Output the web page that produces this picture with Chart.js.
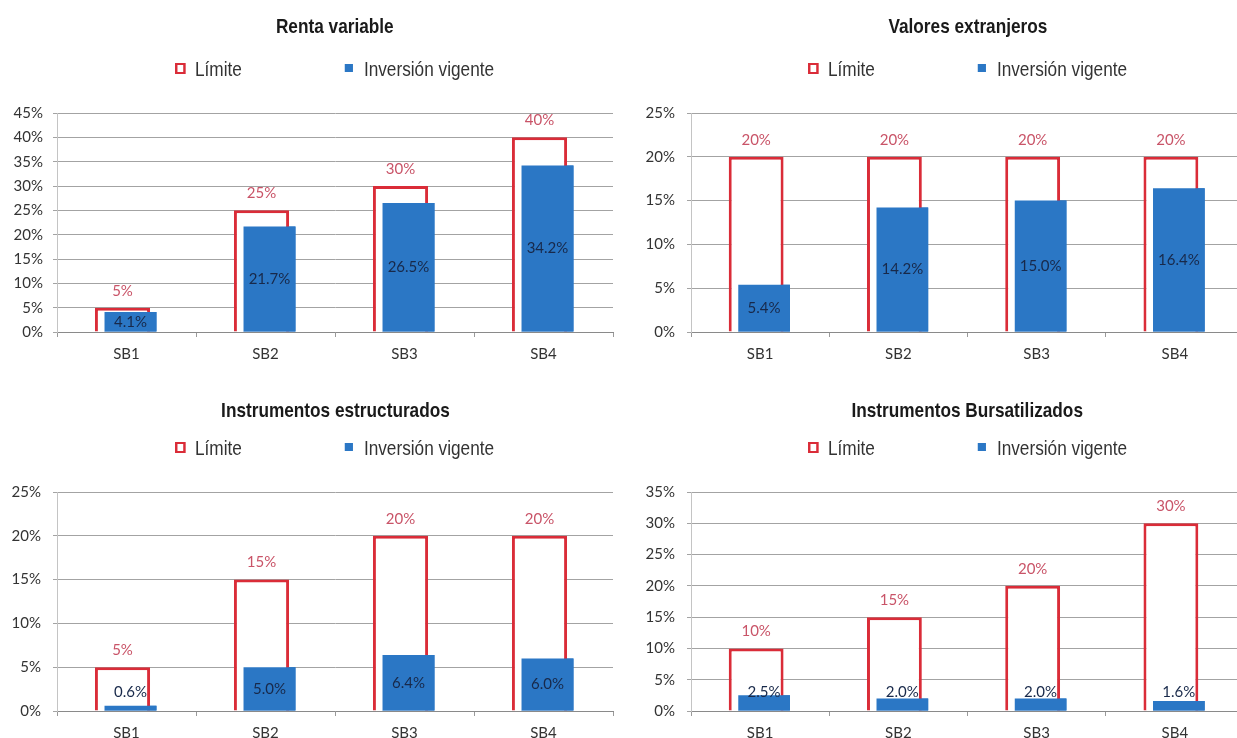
<!DOCTYPE html>
<html lang="es">
<head>
  <meta charset="UTF-8" />
  <title>Límites de inversión por SIEFORE</title>
  <script src="https://cdn.jsdelivr.net/npm/chart.js"></script>
  <style>
    body {
      margin: 0;
      width: 1237px;
      height: 738px;
      overflow: hidden;
      position: relative;
      background: #ffffff;
      font-family: 'Liberation Sans', Arial, sans-serif;
    }
    .panel { position: absolute; height: 375px; }
    .panel canvas { position: absolute; left: 0; top: 0; }
    .title, .legend {
      position: absolute;
      text-align: center;
      white-space: nowrap;
      line-height: 24px;
      font-size: 21px;
    }
    .title { font-weight: bold; color: #1a1a1a; }
    .legend { color: #333; }
    .inner { display: inline-block; transform-origin: center; }
    .mark { display: inline-block; box-sizing: border-box; vertical-align: middle; position: relative; top: -2px; }
  </style>
</head>
<body>

<script>
  // categorías y valores (%)
  const categories = ['SB1', 'SB2', 'SB3', 'SB4'];

  const rentaLimite = [5, 25, 30, 40];
  const rentaInversion = [4.1, 21.7, 26.5, 34.2];

  const valoresLimite = [20, 20, 20, 20];
  const valoresInversion = [5.4, 14.2, 15.0, 16.4];

  const estructLimite = [5, 15, 20, 20];
  const estructInversion = [0.6, 5.0, 6.4, 6.0];

  const bursLimite = [10, 15, 20, 30];
  const bursInversion = [2.5, 2.0, 2.0, 1.6];

  const seriesNames = ['Límite', 'Inversión vigente'];

  const RED = '#da2c38';
  const BLUE = '#2b77c5';
  const RED_TEXT = '#c95468';
  const BLUE_TEXT = '#18294a';

  Chart.defaults.font.family = 'Lato, "Open Sans", sans-serif';
  Chart.defaults.font.size = 15;

  function hasFont(name) {
    const c = document.createElement('canvas').getContext('2d');
    c.font = '20px monospace';
    const a = c.measureText('Inversión vigente').width;
    c.font = '20px "' + name + '", monospace';
    return c.measureText('Inversión vigente').width !== a;
  }
  const narrow = hasFont('Liberation Sans Narrow');
  const sx = narrow ? 1 : 0.82;
  const headFont = narrow ? '"Liberation Sans Narrow"' : '"Liberation Sans"';

  const panels = [
    { title: 'Renta variable', limite: rentaLimite, inversion: rentaInversion, yMax: 45,
      left: 0, top: 0, width: 620, axisW: 57, tickPad: 10, padRight: 7, titleTop: 14 },
    { title: 'Valores extranjeros', limite: valoresLimite, inversion: valoresInversion, yMax: 25,
      left: 620, top: 0, width: 628, axisW: 71, tickPad: 12, padRight: 4, titleTop: 14 },
    { title: 'Instrumentos estructurados', limite: estructLimite, inversion: estructInversion, yMax: 25,
      left: 0, top: 379, width: 620, axisW: 57, tickPad: 12, padRight: 7, titleTop: 19 },
    { title: 'Instrumentos Bursatilizados', limite: bursLimite, inversion: bursInversion, yMax: 35,
      left: 620, top: 379, width: 628, axisW: 71, tickPad: 12, padRight: 4, titleTop: 19 }
  ];

  // dibuja la inversión encima del contorno del límite y pone las etiquetas
  const frontPlugin = {
    id: 'front',
    afterDatasetsDraw(chart) {
      const ctx = chart.ctx;
      const lim = chart.getDatasetMeta(0).data;
      const inv = chart.getDatasetMeta(1).data;
      inv.forEach(bar => bar.draw(ctx));

      ctx.save();
      ctx.font = '15px Lato, "Open Sans", sans-serif';
      ctx.textAlign = 'center';
      ctx.textBaseline = 'middle';
      lim.forEach((bar, i) => {
        ctx.fillStyle = RED_TEXT;
        ctx.fillText(chart.data.datasets[0].data[i] + '%', bar.x, bar.y - 17);
      });
      inv.forEach((bar, i) => {
        const h = bar.base - bar.y;
        const y = h >= 18 ? bar.y + h / 2 : bar.base - 18;
        ctx.fillStyle = BLUE_TEXT;
        ctx.fillText(chart.data.datasets[1].data[i].toFixed(1) + '%', bar.x, y);
      });
      ctx.restore();
    }
  };

  function makeChart(canvas, p) {
    return new Chart(canvas, {
      type: 'bar',
      data: {
        labels: categories,
        datasets: [
          {
            label: seriesNames[0],
            data: p.limite,
            backgroundColor: '#ffffff',
            borderColor: RED,
            borderWidth: 3,
            categoryPercentage: 0.115,
            barPercentage: 6.9
          },
          {
            label: seriesNames[1],
            data: p.inversion,
            backgroundColor: BLUE,
            borderWidth: 0,
            categoryPercentage: 0.115,
            barPercentage: 6.5
          }
        ]
      },
      options: {
        responsive: false,
        animation: false,
        layout: { padding: { top: 113, right: p.padRight, bottom: 13, left: 0 } },
        plugins: {
          legend: { display: false },
          title: { display: false },
          tooltip: { enabled: false }
        },
        scales: {
          x: {
            grid: { offset: true, drawOnChartArea: false, tickLength: 5, color: '#9a9a9a' },
            border: { color: '#8a8a8a' },
            ticks: { color: '#333', padding: 8 },
            afterFit(s) { s.height = 30; }
          },
          y: {
            min: 0,
            max: p.yMax,
            ticks: { stepSize: 5, padding: p.tickPad, color: '#333', callback: v => v + '%' },
            grid: { color: '#a3a3a3', tickLength: 4 },
            border: { color: '#c4c4c4' },
            afterFit(s) { s.width = p.axisW; }
          }
        }
      },
      plugins: [frontPlugin]
    });
  }

  panels.forEach(p => {
    const div = document.createElement('div');
    div.className = 'panel';
    div.style.left = p.left + 'px';
    div.style.top = p.top + 'px';
    div.style.width = p.width + 'px';
    document.body.appendChild(div);

    const canvas = document.createElement('canvas');
    canvas.width = p.width;
    canvas.height = 375;
    div.appendChild(canvas);
    const chart = makeChart(canvas, p);
    const area = chart.chartArea;

    const title = document.createElement('div');
    title.className = 'title';
    title.style.left = area.left + 'px';
    title.style.width = (area.right - area.left) + 'px';
    title.style.top = p.titleTop + 'px';
    title.style.fontFamily = headFont;
    title.innerHTML = '<span class="inner" style="transform:scaleX(' + sx + ')">' + p.title + '</span>';
    div.appendChild(title);

    // leyenda en HTML a partir de los datasets
    const ds = chart.data.datasets;
    const legend = document.createElement('div');
    legend.className = 'legend';
    legend.style.left = area.left + 'px';
    legend.style.width = (area.right - area.left) + 'px';
    legend.style.top = '57px';
    legend.style.fontFamily = headFont;
    legend.innerHTML =
      '<span class="inner" style="transform:scaleX(' + sx + ')">' +
        '<span class="mark" style="width:' + (11 / sx) + 'px;height:11px;border:2.5px solid ' + ds[0].borderColor +
          ';border-left-width:' + (2.5 / sx) + 'px;border-right-width:' + (2.5 / sx) + 'px;margin-right:' + (9 / sx) + 'px"></span>' +
        ds[0].label +
        '<span class="mark" style="width:' + (8 / sx) + 'px;height:8px;background:' + ds[1].backgroundColor +
          ';margin-left:' + (103 / sx) + 'px;margin-right:' + (11 / sx) + 'px"></span>' +
        ds[1].label +
      '</span>';
    div.appendChild(legend);
  });
</script>
</body>
</html>
